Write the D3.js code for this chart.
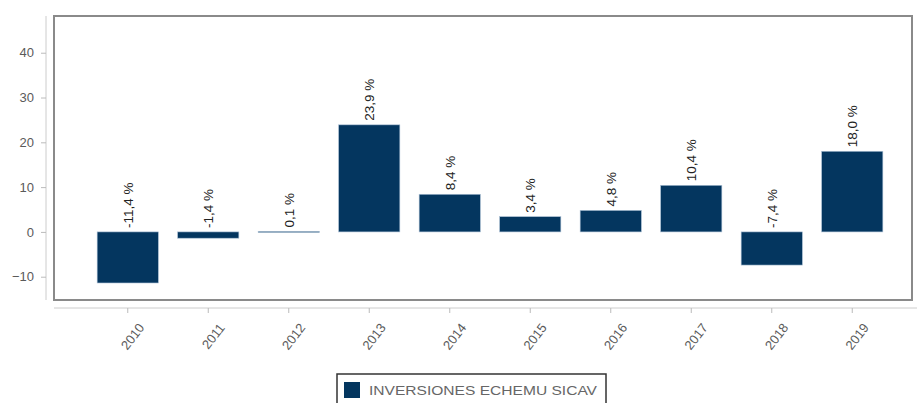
<!DOCTYPE html>
<meta charset="utf-8">
<head>
    <style>
        body { margin: 0; background: #fff; font-family: "Liberation Sans", Arial, sans-serif; }
        .tick text { fill: #5a5a5a; font-size: 13px; }
    </style>
    <script src="https://d3js.org/d3.v7.min.js"></script>
</head>
<body>
    <div id="chart"></div>
    <script>
        // data
        var years = ["2010", "2011", "2012", "2013", "2014", "2015", "2016", "2017", "2018", "2019"];
        var returns = [-11.4, -1.4, 0.1, 23.9, 8.4, 3.4, 4.8, 10.4, -7.4, 18.0];
        var yTicks = [-10, 0, 10, 20, 30, 40];
        var seriesName = "INVERSIONES ECHEMU SICAV";

        var width = 917, height = 403;
        var frame = { left: 54, top: 16, right: 912, bottom: 300 };

        var svg = d3.select("#chart").append("svg")
            .attr("width", width)
            .attr("height", height);

        var x = d3.scaleBand()
            .domain(years)
            .range([87.5, 892.5])
            .paddingInner(0.24)
            .paddingOuter(0.12);

        var y = d3.scaleLinear()
            .domain([-15.2, 48.2])
            .range([frame.bottom, frame.top]);

        // plot frame
        svg.append("rect")
            .attr("x", frame.left)
            .attr("y", frame.top)
            .attr("width", frame.right - frame.left)
            .attr("height", frame.bottom - frame.top)
            .attr("fill", "none")
            .attr("stroke", "#8a8a8a")
            .attr("stroke-width", 2);

        // y axis, detached to the left of the frame
        var yAxis = svg.append("g")
            .attr("transform", "translate(46,0)")
            .call(d3.axisLeft(y).tickValues(yTicks).tickSize(5).tickPadding(7));
        yAxis.select(".domain").attr("stroke", "#ccc").attr("d", "M0," + frame.top + "V" + frame.bottom);
        yAxis.selectAll(".tick line").attr("stroke", "#bbb");

        // x axis, below the frame
        var xAxis = svg.append("g")
            .attr("transform", "translate(0,308)")
            .call(d3.axisBottom(x).tickSize(5).tickSizeOuter(0));
        xAxis.select(".domain").attr("stroke", "#ccc").attr("d", "M" + frame.left + ",0H" + width);
        xAxis.selectAll(".tick line").attr("stroke", "#bbb");
        xAxis.selectAll(".tick text")
            .attr("text-anchor", "end")
            .attr("dy", 0)
            .attr("transform", "translate(11,15) rotate(-52)");

        // bars
        svg.selectAll(".bar")
            .data(years)
            .enter()
            .append("rect")
            .attr("class", "bar")
            .attr("x", function (d) { return x(d); })
            .attr("width", x.bandwidth())
            .attr("y", function (d, i) { return y(Math.max(0, returns[i])); })
            .attr("height", function (d, i) { return Math.max(1, Math.abs(y(returns[i]) - y(0))); })
            .attr("fill", "#04365f")
            .attr("stroke", "#a9bed3")
            .attr("stroke-width", 0.6);

        // value labels, rotated
        svg.selectAll(".label")
            .data(years)
            .enter()
            .append("text")
            .attr("class", "label")
            .attr("transform", function (d, i) {
                var cx = x(d) + x.bandwidth() / 2;
                var cy = y(Math.max(0, returns[i])) - 4;
                return "translate(" + (cx + 5) + "," + cy + ") rotate(-90)";
            })
            .attr("font-size", "13.5px")
            .attr("fill", "#222")
            .text(function (d, i) { return returns[i].toFixed(1).replace(".", ",") + " %"; });

        // legend
        var legend = svg.append("g").attr("transform", "translate(337,374)");
        legend.append("rect")
            .attr("width", 269)
            .attr("height", 32)
            .attr("fill", "#fff")
            .attr("stroke", "#333")
            .attr("stroke-width", 1.5);
        legend.append("rect")
            .attr("x", 7)
            .attr("y", 8)
            .attr("width", 16)
            .attr("height", 16)
            .attr("fill", "#04365f");
        legend.append("text")
            .attr("x", 32)
            .attr("y", 21)
            .attr("font-size", "13.5px")
            .attr("fill", "#666")
            .attr("textLength", 228)
            .attr("lengthAdjust", "spacingAndGlyphs")
            .text(seriesName);
    </script>
</body>
